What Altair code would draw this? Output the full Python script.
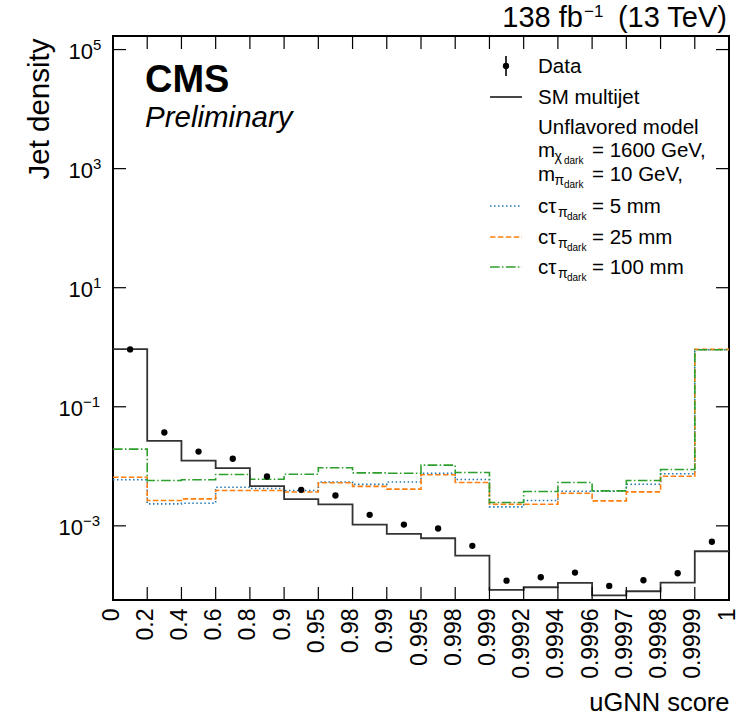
import json
import altair as alt
import pandas as pd

# ---------------- data ----------------
edge_labels = ["0", "0.2", "0.4", "0.6", "0.8", "0.9", "0.95", "0.98", "0.99",
               "0.995", "0.998", "0.999", "0.9992", "0.9994", "0.9996",
               "0.9997", "0.9998", "0.9999", "1"]

data_vals = [0.92, 0.037, 0.0177, 0.0134, 0.00675, 0.00403, 0.00323, 0.00153,
             0.00105, 0.000902, 0.000461, 1.2e-4, 1.37e-4, 1.64e-4, 9.8e-5,
             1.22e-4, 1.6e-4, 5.4e-4]
sm_vals = [0.93, 0.0268, 0.0125, 0.0093, 0.00463, 0.0028, 0.0023, 0.00105,
           0.000734, 0.000619, 0.000317, 8.4e-5, 9.3e-5, 1.1e-4, 6.8e-5,
           7.96e-5, 1.11e-4, 3.74e-4]
ct5_vals = [0.00593, 0.00234, 0.0024, 0.00446, 0.00423, 0.00392, 0.00545,
            0.00497, 0.00545, 0.00766, 0.006, 0.00208, 0.00266, 0.00382,
            0.00382, 0.005, 0.00748, 0.908]
ct25_vals = [0.00656, 0.00266, 0.00284, 0.00392, 0.00392, 0.0037, 0.0053,
             0.0046, 0.00413, 0.0072, 0.00534, 0.00231, 0.00231, 0.00353,
             0.00263, 0.00372, 0.00682, 0.92]
ct100_vals = [0.0194, 0.00577, 0.00593, 0.00728, 0.00607, 0.00736, 0.00945,
              0.00775, 0.00766, 0.01045, 0.00787, 0.00247, 0.00377, 0.00534,
              0.00386, 0.00577, 0.00883, 0.908]

ytick_vals = [1e-3, 1e-1, 1e1, 1e3, 1e5]
ytick_exps = ["\u22123", "\u22121", "1", "3", "5"]

FONT = "Liberation Sans"
W, H = 616, 564

n = len(data_vals)


def step_df(vals):
    return pd.DataFrame({"edge": list(range(n + 1)), "value": list(vals) + [vals[-1]]})


xscale = alt.Scale(domain=[0, n], nice=False, zero=False)
yscale = alt.Scale(type="log", domain=[5.68e-5, 1.69e5], nice=False)

label_expr = json.dumps(edge_labels) + "[datum.value]"
xaxis = alt.Axis(values=list(range(n + 1)), labelExpr=label_expr, labelAngle=270,
                 labelFontSize=23, labelFont=FONT, labelColor="black",
                 labelPadding=8, labelOffset=-2, labelOverlap=False, labelFlush=False,
                 labelBound=False,
                 ticks=False, domain=False, grid=False,
                 title="uGNN score", titleFont=FONT, titleFontSize=25.5,
                 titleFontWeight="normal", titleColor="black",
                 titleX=W, titleY=110, titleAlign="right", titleBaseline="alphabetic")
yaxis = alt.Axis(labels=False, ticks=False, domain=False, grid=False,
                 title="Jet density", titleFont=FONT, titleFontSize=29.5,
                 titleFontWeight="normal", titleColor="black",
                 titleX=-65, titleY=2, titleAngle=270, titleAlign="right",
                 titleBaseline="alphabetic")


def X(field):
    return alt.X(field, type="quantitative", scale=xscale, axis=xaxis, title="uGNN score")


def Y(field):
    return alt.Y(field, type="quantitative", scale=yscale, axis=yaxis, title="Jet density")


layers = []

# histogram step lines
series = [
    (ct5_vals, "#1f77b4", [1.5, 2.5]),
    (ct25_vals, "#ff7f0e", [5.5, 2.4]),
    (ct100_vals, "#2ca02c", [9.6, 2.4, 1.5, 2.4]),
]
for vals, col, dash in series:
    layers.append(
        alt.Chart(step_df(vals)).mark_line(interpolate="step-after", color=col,
                                          strokeWidth=1.6, strokeDash=dash)
        .encode(x=X("edge"), y=Y("value"))
    )
layers.append(
    alt.Chart(step_df(sm_vals)).mark_line(interpolate="step-after", color="#333333",
                                         strokeWidth=1.8)
    .encode(x=X("edge"), y=Y("value"))
)

# data points
pts = pd.DataFrame({"center": [i + 0.5 for i in range(n)], "value": data_vals})
layers.append(
    alt.Chart(pts).mark_circle(color="black", opacity=1, size=40)
    .encode(x=X("center"), y=Y("value"))
)

# inward ticks
edges_df = pd.DataFrame({"edge": list(range(1, n))})
layers.append(alt.Chart(edges_df).mark_rule(color="black", strokeWidth=1.2)
              .encode(x=X("edge"), y=alt.value(H), y2=alt.value(H - 13)))
layers.append(alt.Chart(edges_df).mark_rule(color="black", strokeWidth=1.2)
              .encode(x=X("edge"), y=alt.value(0), y2=alt.value(13)))
yt_df = pd.DataFrame({"tick": ytick_vals, "exp": ytick_exps,
                      "neg": [e.startswith("\u2212") for e in ytick_exps]})
layers.append(alt.Chart(yt_df).mark_rule(color="black", strokeWidth=1.2)
              .encode(y=Y("tick"), x=alt.value(0), x2=alt.value(13)))
layers.append(alt.Chart(yt_df).mark_rule(color="black", strokeWidth=1.2)
              .encode(y=Y("tick"), x=alt.value(W), x2=alt.value(W - 13)))

# y tick labels: "10" + superscript exponent
for neg, xb in [(True, -30), (False, -20)]:
    sub = yt_df[yt_df["neg"] == neg]
    layers.append(alt.Chart(sub).mark_text(font=FONT, fontSize=22, align="right",
                                          baseline="alphabetic", dy=9.5, color="black",
                                          text="10")
                  .encode(y=Y("tick"), x=alt.value(xb)))
    layers.append(alt.Chart(sub).mark_text(font=FONT, fontSize=15, align="left",
                                          baseline="alphabetic", dy=0.5, color="black")
                  .encode(y=Y("tick"), x=alt.value(xb), text="exp:N"))

one = pd.DataFrame({"a": [0]})
OX, OY = 113, 36  # plot origin in page pixels


def txt(s, x, y, size=20.5, align="left", weight="normal", style="normal"):
    return alt.Chart(one).mark_text(text=s, font=FONT, fontSize=size, align=align,
                                    baseline="alphabetic", fontWeight=weight,
                                    fontStyle=style, color="black") \
        .encode(x=alt.value(x - OX), y=alt.value(y - OY))


def hline(x1, x2, y, col, dash=None, width=1.6):
    kw = dict(color=col, strokeWidth=width)
    if dash:
        kw["strokeDash"] = dash
    return alt.Chart(one).mark_rule(**kw).encode(
        x=alt.value(x1 - OX), x2=alt.value(x2 - OX), y=alt.value(y - OY))


# header texts
layers.append(txt("138 fb", 583, 27, size=29, align="right"))
layers.append(txt("\u22121", 584, 17, size=17))
layers.append(txt("(13 TeV)", 727, 27, size=29, align="right"))
layers.append(txt("CMS", 145, 92, size=38, weight="bold"))
layers.append(txt("Preliminary", 145, 127, size=29.5, style="italic"))

# legend
layers.append(alt.Chart(one).mark_rule(color="black", strokeWidth=1.6)
              .encode(x=alt.value(506 - OX), y=alt.value(56 - OY), y2=alt.value(76 - OY)))
layers.append(alt.Chart(one).mark_circle(color="black", opacity=1, size=40)
              .encode(x=alt.value(506 - OX), y=alt.value(66 - OY)))
layers.append(txt("Data", 538, 73))
layers.append(hline(490, 522, 97, "#333333", width=1.8))
layers.append(txt("SM multijet", 538, 104))
layers.append(txt("Unflavored model", 538, 134))

for sym, base, rest in [("\u03c7", 157, "= 1600 GeV,"), ("\u03c0", 181, "= 10 GeV,")]:
    layers.append(txt("m", 538, base))
    layers.append(txt(sym, 554.5, base + 4, size=14))
    layers.append(txt("dark", 564, base + 7, size=10))
    layers.append(txt(rest, 592, base))

for (vals, col, dash), yline, label in zip(series, [206, 237, 267],
                                          ["= 5 mm", "= 25 mm", "= 100 mm"]):
    layers.append(hline(490, 522, yline, col, dash))
    base = yline + 7
    layers.append(txt("c\u03c4", 538, base))
    layers.append(txt("\u03c0", 558, base + 4, size=14))
    layers.append(txt("dark", 567, base + 7, size=10))
    layers.append(txt(label, 592, base))

chart = (
    alt.layer(*layers)
    .properties(width=W, height=H,
                padding={"left": OX, "top": OY, "right": 738 - OX - W, "bottom": 714 - OY - H},
                autosize=alt.AutoSizeParams(type="none"))
    .configure(font=FONT)
    .configure_view(stroke="black", strokeWidth=2)
)

chart.save("out.html", embed_options={"renderer": "svg", "actions": False})
